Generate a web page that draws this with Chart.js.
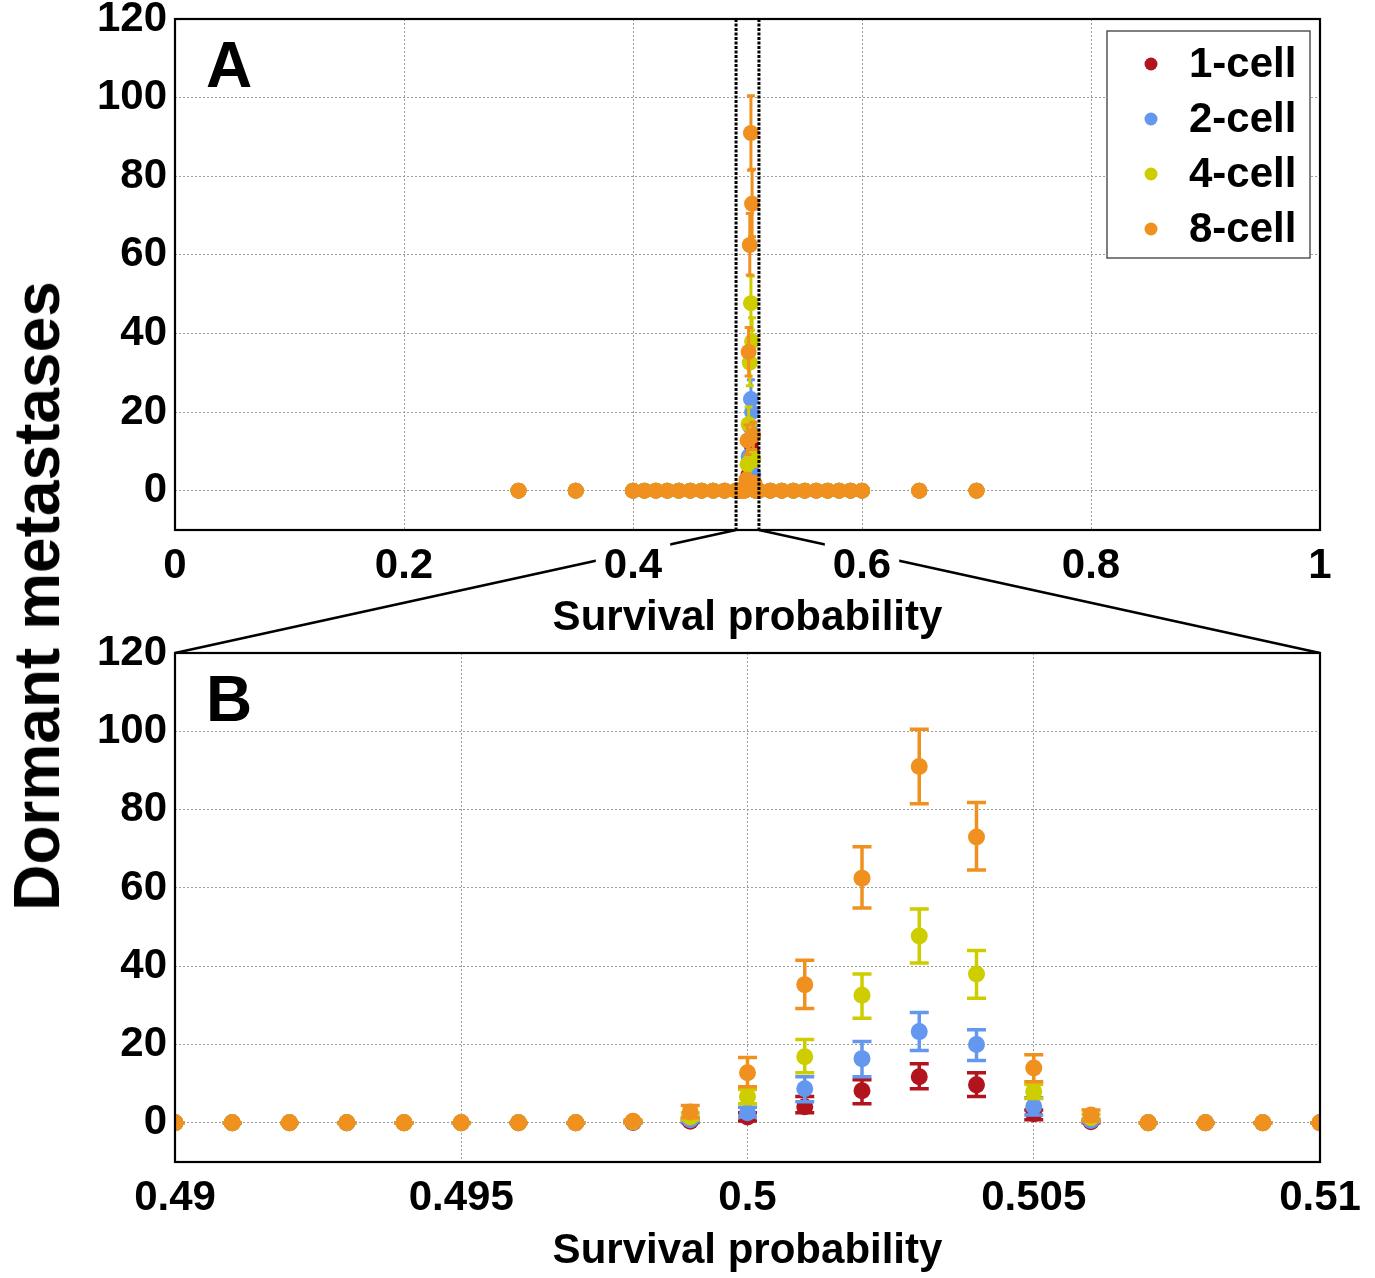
<!DOCTYPE html>
<html><head><meta charset="utf-8">
<script src="https://cdn.jsdelivr.net/npm/chart.js@4.4.1/dist/chart.umd.min.js"></script>
<style>
html,body{margin:0;padding:0;background:#fff;}
#wrap{position:relative;width:1375px;height:1278px;overflow:hidden;background:#fff;}
#cA{position:absolute;left:0;top:0;z-index:1;}
#cB{position:absolute;left:0;top:620px;z-index:2;}
#ytitle{position:absolute;left:37px;top:596px;transform:translate(-50%,-50%) rotate(-90deg);font:bold 64px 'Liberation Sans',Arial,sans-serif;white-space:nowrap;z-index:3;color:#000;line-height:1;}
</style></head>
<body><div id="wrap">
<canvas id="cA" width="1375" height="660"></canvas>
<canvas id="cB" width="1375" height="658"></canvas>
<div id="ytitle">Dormant metastases</div>
</div>
<script>
// ---------------- DATA ----------------
const seriesNames = ['1-cell','2-cell','4-cell','8-cell'];
const seriesColors = ['#b2141e','#6398ee','#cdcd00','#f0911f'];

// fine sweep (panel B, also shown in panel A)
const xFine = [0.490,0.491,0.492,0.493,0.494,0.495,0.496,0.497,0.498,0.499,0.500,0.501,0.502,0.503,0.504,0.505,0.506,0.507,0.508,0.509,0.510];
const cell1Mean = [0,0,0,0,0,0,0,0,0.1,0.4,1.5,4.1,8.2,11.8,9.7,2.3,0.3,0,0,0,0];
const cell1Low  = [0,0,0,0,0,0,0,0,0.0,0.1,0.5,2.6,4.9,8.7,6.7,0.8,0.0,0,0,0,0];
const cell1High = [0,0,0,0,0,0,0,0,0.2,0.7,2.6,6.7,11.0,15.1,12.8,3.3,0.6,0,0,0,0];
const cell2Mean = [0,0,0,0,0,0,0,0,0.2,0.8,2.6,8.7,16.4,23.3,20.0,4.2,0.6,0,0,0,0];
const cell2Low  = [0,0,0,0,0,0,0,0,0.1,0.3,1.5,5.4,11.8,18.5,15.9,2.0,0.2,0,0,0,0];
const cell2High = [0,0,0,0,0,0,0,0,0.3,1.4,4.0,11.8,20.8,28.2,23.8,6.4,1.0,0,0,0,0];
const cell4Mean = [0,0,0,0,0,0,0,0,0.3,1.5,6.7,16.9,32.6,47.7,38.0,8.0,1.3,0,0,0,0];
const cell4Low  = [0,0,0,0,0,0,0,0,0.1,0.8,4.9,12.8,26.7,40.8,31.8,6.2,0.6,0,0,0,0];
const cell4High = [0,0,0,0,0,0,0,0,0.5,2.5,8.5,21.3,38.0,54.6,44.0,9.8,2.2,0,0,0,0];
const cell8Mean = [0,0,0,0,0,0,0,0,0.4,2.8,12.8,35.3,62.5,91.0,73.0,14.0,2.0,0,0,0,0];
const cell8Low  = [0,0,0,0,0,0,0,0,0.2,1.3,9.2,29.2,54.9,81.5,64.6,10.5,0.5,0,0,0,0];
const cell8High = [0,0,0,0,0,0,0,0,0.7,4.4,16.7,41.5,70.5,100.5,81.8,17.4,3.3,0,0,0,0];

// coarse sweep (panel A only): every series reads 0
const xCoarse = [0.30,0.35,0.40,0.41,0.42,0.43,0.44,0.45,0.46,0.47,0.48,0.52,0.53,0.54,0.55,0.56,0.57,0.58,0.59,0.60,0.65,0.70];
const coarseMean = [0,0,0,0,0,0,0,0,0,0,0,0,0,0,0,0,0,0,0,0,0,0];

// axes
const xTicksA = [0,0.2,0.4,0.6,0.8,1];
const xTicksB = [0.49,0.495,0.5,0.505,0.51];
const yTicks = [0,20,40,60,80,100,120];
const xTitle = 'Survival probability';
const yTitle = 'Dormant metastases';

const means = [cell1Mean,cell2Mean,cell4Mean,cell8Mean];
const lows  = [cell1Low,cell2Low,cell4Low,cell8Low];
const highs = [cell1High,cell2High,cell4High,cell8High];

// ---------------- CHART SETUP ----------------
Chart.defaults.font.family = "'Liberation Sans', Arial, Helvetica, sans-serif";
Chart.defaults.font.weight = 'bold';
Chart.defaults.color = '#000';
const FONT = "'Liberation Sans', Arial, Helvetica, sans-serif";

function pts(xs, m, lo, hi){ return xs.map((x,i)=>({x:x, y:m[i], lo:lo[i], hi:hi[i]})); }
function makeDatasets(withCoarse, radius){
  return seriesNames.map((n,k)=>{
    let data = pts(xFine, means[k], lows[k], highs[k]);
    if (withCoarse) data = pts(xCoarse, coarseMean, coarseMean, coarseMean).concat(data);
    return {label:n, data:data, backgroundColor:seriesColors[k], borderColor:seriesColors[k],
      pointRadius:radius, pointHoverRadius:radius, pointBorderWidth:0, showLine:false,
      order: seriesNames.length - k};
  });
}
function fmt(v){ return String(+(+v).toFixed(4)); }

const errorBars = {
  id:'errorBars',
  beforeDatasetDraw(chart, args, o){
    const ds = chart.data.datasets[args.index];
    const xs = chart.scales.x, ys = chart.scales.y, ctx = chart.ctx, a = chart.chartArea;
    const w = o.capWidth / 2;
    ctx.save();
    ctx.beginPath(); ctx.rect(a.left, a.top, a.right-a.left, a.bottom-a.top); ctx.clip();
    ctx.strokeStyle = ds.borderColor; ctx.lineWidth = o.lineWidth; ctx.lineCap = 'butt';
    ds.data.forEach(p=>{
      const x = xs.getPixelForValue(p.x), y1 = ys.getPixelForValue(p.lo), y2 = ys.getPixelForValue(p.hi);
      ctx.beginPath();
      ctx.moveTo(x, y1); ctx.lineTo(x, y2);
      ctx.moveTo(x-w, y1); ctx.lineTo(x+w, y1);
      ctx.moveTo(x-w, y2); ctx.lineTo(x+w, y2);
      ctx.stroke();
    });
    ctx.restore();
  }
};

const frame = {
  id:'frame',
  afterDatasetsDraw(chart, args, o){
    const a = chart.chartArea, ctx = chart.ctx;
    ctx.save(); ctx.strokeStyle = '#000'; ctx.lineWidth = 2.2;
    ctx.strokeRect(a.left, a.top, a.right-a.left, a.bottom-a.top);
    ctx.restore();
  },
  afterDraw(chart, args, o){
    const a = chart.chartArea, ctx = chart.ctx;
    ctx.save(); ctx.fillStyle = '#000'; ctx.font = 'bold 64px ' + FONT;
    ctx.textAlign = 'left'; ctx.textBaseline = 'alphabetic';
    ctx.fillText(o.panel, a.left + 31, a.top + 68);
    ctx.restore();
  }
};

const legendBox = {
  id:'legendBox',
  afterDraw(chart, args, o){
    if (!o.show) return;
    const a = chart.chartArea, ctx = chart.ctx;
    const bw = 203, bh = 227, right = a.right - 10, top = a.top + 12, left = right - bw;
    ctx.save();
    ctx.fillStyle = '#fff'; ctx.fillRect(left, top, bw, bh);
    ctx.strokeStyle = '#4a4a4a'; ctx.lineWidth = 1.4; ctx.strokeRect(left, top, bw, bh);
    ctx.font = 'bold 42px ' + FONT; ctx.textAlign = 'left'; ctx.textBaseline = 'middle';
    chart.data.datasets.forEach((ds,i)=>{
      const y = top + 33 + 55*i;
      ctx.fillStyle = ds.backgroundColor;
      ctx.beginPath(); ctx.arc(left + 44, y, 6.5, 0, Math.PI*2); ctx.fill();
      ctx.fillStyle = '#000';
      ctx.fillText(ds.label, left + 82, y + 1);
    });
    ctx.restore();
  }
};

const zoomLinks = {
  id:'zoomLinks',
  beforeDraw(chart, args, o){
    const t = o.target ? o.target() : null; if (!t) return;
    const a = chart.chartArea, xs = chart.scales.x, ctx = chart.ctx;
    const x1 = xs.getPixelForValue(t.min), x2 = xs.getPixelForValue(t.max);
    ctx.save(); ctx.strokeStyle = '#000'; ctx.lineWidth = 2.6;
    ctx.beginPath();
    ctx.moveTo(x1, a.bottom); ctx.lineTo(t.left, t.top);
    ctx.moveTo(x2, a.bottom); ctx.lineTo(t.right, t.top);
    ctx.stroke(); ctx.restore();
  },
  afterDatasetsDraw(chart, args, o){
    const t = o.target ? o.target() : null; if (!t) return;
    const a = chart.chartArea, xs = chart.scales.x, ctx = chart.ctx;
    ctx.save(); ctx.strokeStyle = '#000'; ctx.lineWidth = 3; ctx.setLineDash([3,1.5]);
    [t.min, t.max].forEach(v=>{
      const x = xs.getPixelForValue(v);
      ctx.beginPath(); ctx.moveTo(x, a.top); ctx.lineTo(x, a.bottom); ctx.stroke();
    });
    ctx.restore();
  }
};

function buildOptions(c){
  return {
    animation:false, responsive:false, events:[],
    layout:{padding:{left:0, right:55, top:c.padTop, bottom:c.padBottom}},
    plugins:{
      legend:{display:false}, tooltip:{enabled:false},
      errorBars:{capWidth:c.cap, lineWidth:c.elw},
      frame:{panel:c.panel},
      legendBox:{show:c.legend},
      zoomLinks:{target:c.target}
    },
    scales:{
      x:{type:'linear', min:c.xmin, max:c.xmax,
        afterBuildTicks:s=>{ s.ticks = c.xticks.map(v=>({value:v})); },
        afterFit:s=>{ s.height = c.xh; s.paddingLeft = 0; s.paddingRight = 0; },
        ticks:{autoSkip:false, maxRotation:0, minRotation:0, padding:c.xtp, color:'#000',
          font:{size:42, weight:'bold', lineHeight:1}, callback:v=>fmt(v),
          showLabelBackdrop:c.backdrop, backdropColor:'#fff', backdropPadding:{x:8, y:2}},
        grid:{color:'#9a9a9a', lineWidth:1, drawTicks:false},
        border:{display:false, dash:[2,2]},
        title:{display:true, text:xTitle, color:'#000', font:{size:42, weight:'bold'}, padding:0}
      },
      y:{type:'linear', min:-10, max:120,
        afterBuildTicks:s=>{ s.ticks = yTicks.map(v=>({value:v})); },
        afterFit:s=>{ s.width = 175; s.paddingTop = 0; s.paddingBottom = 0; },
        ticks:{padding:8, color:'#000', font:{size:42, weight:'bold'}, callback:v=>fmt(v)},
        grid:{color:'#9a9a9a', lineWidth:1, drawTicks:false},
        border:{display:false, dash:[2,2]}
      }
    }
  };
}

const canvasA = document.getElementById('cA');
const canvasB = document.getElementById('cB');

const chartB = new Chart(canvasB, {
  type:'scatter',
  data:{datasets:makeDatasets(false, 8.5)},
  options:buildOptions({padTop:33, padBottom:1, xh:115, xtp:15, xmin:0.49, xmax:0.51, xticks:xTicksB,
    cap:19, elw:3.5, panel:'B', legend:false, backdrop:false, target:null}),
  plugins:[errorBars, frame, legendBox, zoomLinks]
});

function targetFromB(){
  const dy = canvasB.offsetTop - canvasA.offsetTop, dx = canvasB.offsetLeft - canvasA.offsetLeft;
  const a = chartB.chartArea;
  return {min:chartB.scales.x.min, max:chartB.scales.x.max, left:a.left+dx, right:a.right+dx, top:a.top+dy};
}

const chartA = new Chart(canvasA, {
  type:'scatter',
  data:{datasets:makeDatasets(true, 8)},
  options:buildOptions({padTop:19, padBottom:16, xh:114, xtp:15, xmin:0, xmax:1, xticks:xTicksA,
    cap:8, elw:3, panel:'A', legend:true, backdrop:true, target:targetFromB}),
  plugins:[errorBars, frame, legendBox, zoomLinks]
});
</script>
</body></html>
